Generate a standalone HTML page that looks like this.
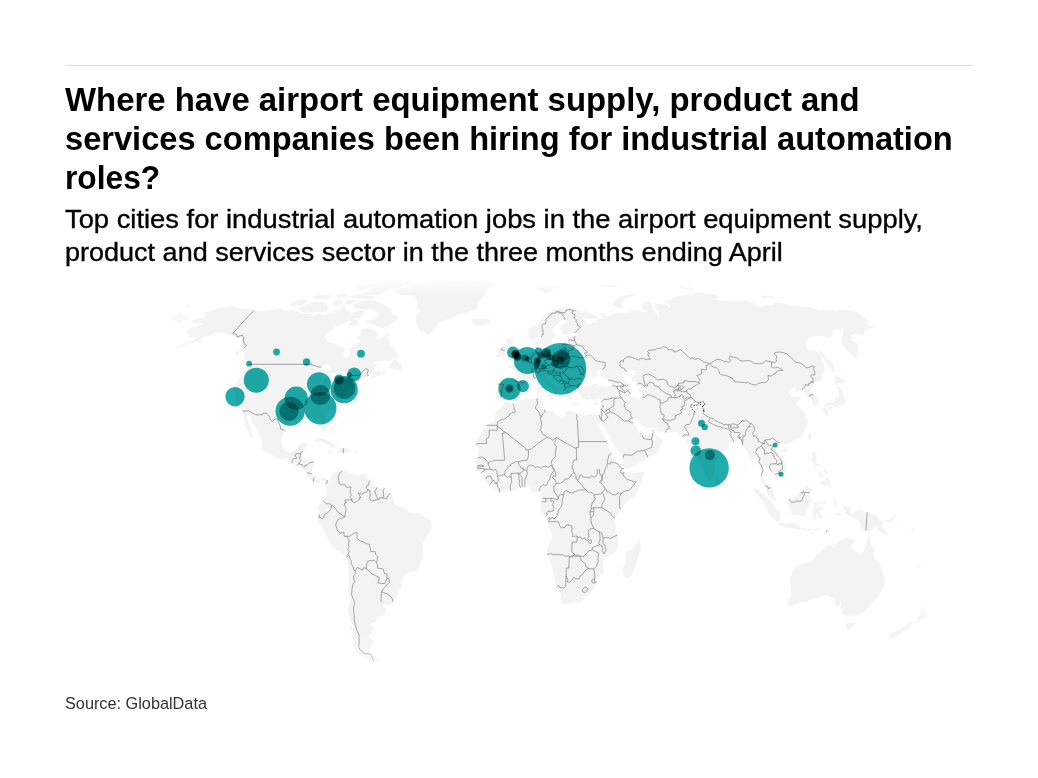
<!DOCTYPE html>
<html><head><meta charset="utf-8"><title>chart</title>
<style>
html,body{margin:0;padding:0;background:#fff;}
body{width:1038px;height:778px;position:relative;overflow:hidden;font-family:"Liberation Sans",sans-serif;color:#000;}
.rule{position:absolute;left:65px;top:65px;width:908px;height:1px;background:#dedede;}
.t{position:absolute;left:65px;white-space:nowrap;transform-origin:0 0;line-height:1;}
.h{font-weight:700;font-size:32.5px;color:#000;}
.s{font-size:25.8px;color:#000;-webkit-text-stroke:0.35px #000;}
.src{font-size:17.4px;color:#333;}
svg{position:absolute;left:0;top:0;}
#bubbles circle{mix-blend-mode:multiply;}
</style></head><body>
<div class="rule"></div>
<div class="t h" id="h1" style="top:84.1px;transform:scaleX(1.0123)">Where have airport equipment supply, product and</div>
<div class="t h" id="h2" style="top:122.8px;transform:scaleX(1.0032)">services companies been hiring for industrial automation</div>
<div class="t h" id="h3" style="top:161.8px;transform:scaleX(0.9755)">roles?</div>
<div class="t s" id="s1" style="top:206.76px;transform:scaleX(1.0596)">Top cities for industrial automation jobs in the airport equipment supply,</div>
<div class="t s" id="s2" style="top:239.66px;transform:scaleX(1.0472)">product and services sector in the three months ending April</div>
<div class="t src" id="src" style="top:694.7px;transform:scaleX(0.9353)">Source: GlobalData</div>
<svg width="1038" height="778" viewBox="0 0 1038 778">
<defs>
<linearGradient id="fT" x1="0" y1="277" x2="0" y2="297" gradientUnits="userSpaceOnUse"><stop offset="0" stop-color="#fff" stop-opacity="1"/><stop offset="1" stop-color="#fff" stop-opacity="0"/></linearGradient>
<linearGradient id="fB" x1="0" y1="700" x2="0" y2="635" gradientUnits="userSpaceOnUse"><stop offset="0" stop-color="#fff" stop-opacity="1"/><stop offset="1" stop-color="#fff" stop-opacity="0"/></linearGradient>
<linearGradient id="fL" x1="140" y1="0" x2="205" y2="0" gradientUnits="userSpaceOnUse"><stop offset="0" stop-color="#fff" stop-opacity="1"/><stop offset="1" stop-color="#fff" stop-opacity="0"/></linearGradient>
<linearGradient id="fR" x1="990" y1="0" x2="885" y2="0" gradientUnits="userSpaceOnUse"><stop offset="0" stop-color="#fff" stop-opacity="1"/><stop offset="1" stop-color="#fff" stop-opacity="0"/></linearGradient>
</defs>
<g id="map">
<path id="land" d="M229.7 306.3L236.7 307.5L243 308.4L251.6 309.1L254.1 310.3L260.2 311.8L266 310.6L273.7 309.4L280.2 308.4L283.8 310.6L291.9 309.9L297.8 311.8L301 313.8L308.9 314.5L313.8 313L311.1 316.7L319 313.8L324 314.7L332.7 313L336 313.8L339.1 310.6L344.9 304.8L345.5 309.4L347.2 311.1L350.5 311.8L351.8 314.2L357.8 310.6L364.4 310.6L363.6 314.2L359.3 317.9L353.2 318.4L348.9 320.9L343.1 324.2L338.4 325.5L334 328.1L328.8 331.9L324.5 337.2L327.5 337.9L326.2 342.5L333.2 343L339.6 347L345.1 347.6L343.3 353.3L343.8 357.4L345.7 357.9L348.3 356.8L350.1 353.3L350.5 348.6L357.2 345.1L359.9 341.1L357.3 337.7L360.8 334.5L362.6 328.6L370.6 328.6L375.3 331.4L377.6 333.2L376 337.2L378.3 339L383.1 337.2L387.6 333.5L389.3 339.8L390 343.8L392.1 347L395.6 349.2L396.6 353.3L398.7 355.5L396.5 357.4L390.2 360.7L383.7 360.7L377.1 361L372 363.5L366.5 367.1L361.1 370.5L369.4 364.9L376.3 363.7L377.4 365.1L374 367.7L374.9 369.9L376.1 372.1L381.3 373.6L385.5 369.9L385 372.7L382.1 374.7L376 376.7L370.7 379.8L369.5 378.4L374.3 374.7L368.5 375.5L368.2 376.7L363.3 378.4L360 379.8L358.1 382.6L359.5 384.1L359.2 385.2L355.6 385.8L350.7 387.5L349.3 388.3L348.1 391.2L345.8 392.9L344 395.5L342.2 398.4L341.9 401.2L342.1 403.6L338.1 405.6L335.4 407.3L331.9 409.6L327.6 412.8L325.8 415.7L325 418.5L326 422.9L326.6 427.8L325.1 432.1L322.9 432.4L321.9 429.5L320.6 425.2L321.3 421.4L318.8 418.5L315.1 419.4L312 417.4L308.3 417.7L305.9 418L305.7 420.9L302.9 420.9L299.6 419.7L294.8 419.7L292.1 421.1L286.6 424.3L284.4 430.1L282.3 435.9L281.4 440.8L282.1 445.1L283.6 449.4L286.5 451.4L288.3 452.6L292.6 451.4L295.6 450.8L297.9 448L298.7 444.5L303.5 443.1L307.2 443.1L307.3 445.1L305.1 448.8L303.9 452.6L302.6 454.6L302.1 457.5L300.6 459.2L303.8 459.5L307.5 459.2L311.1 459.5L313.8 461.8L312.9 466.1L312.1 470.4L311.8 473.3L312.9 476.1L315.2 478.4L318.1 479.6L320.6 478.4L323.1 477.6L325.6 478.1L326.9 479.9L327.3 482.2L325.5 484.2L324.4 481.3L321.8 479.3L319.5 481.3L319.6 483.6L316.7 483L313.3 481.6L311.4 480.1L308.9 476.7L306.5 475.6L306.9 473.3L304.5 469.8L302.7 467.5L300.6 466.9L297 465.5L293.4 464.6L291.6 462.9L288 458.6L285 458.6L281.7 459.8L277 458L273.6 456L269.6 453.7L265.7 452L262.5 448.8L261.6 446L262.8 443.1L262 438.7L259.2 434.4L256.4 431L255.4 427.2L253.2 424.3L251.2 421.4L250.7 416.2L247.7 413.6L246.4 417.1L248.1 421.4L249.3 425.8L251.1 430.1L252 434.4L253.6 438.2L252.2 439L249.5 435L248.4 431.5L246.3 428.1L243.6 424.9L245.8 422.9L244 419.1L243.1 414.2L242.6 411.3L241 407.6L236.5 405.6L236.4 402.7L235.5 398.9L235.5 396.1L234.5 391.2L234.5 388.6L236.8 384.1L237.4 381.2L241.3 375.5L243.2 371.9L244.7 366.3L248.4 366.3L248 369.1L249.9 366.3L249.5 364.3L247.8 361.5L244 358.8L244.4 354.6L243.9 350.5L243.2 348.4L242.4 346.5L242.2 342.5L241.7 339L238 338.5L236.4 336.6L233.6 335.1L228.9 334.5L225.6 333.8L223.1 331.9L217.9 333.2L216.5 331.4L209.1 336.4L205 336.4L200.9 339.8L193.5 342.5L187 345.1L179.9 347.3L174.8 348.4L170.3 349.2L178.2 345.7L185 343.8L192.2 340.3L196 337.7L190.3 337.9L186.9 337.2L189.4 334.5L185.6 333.2L186.2 330.6L190.3 327.5L195.6 326.3L200.6 325.2L202.9 323L199.3 322.7L193.1 323L192.2 320.2L200.2 318.2L205.5 318.7L203.8 316.7L206.6 314.2L202.9 313.3L211.1 311.1L217.7 308.7L225.8 307.2ZM392.9 290.6L403.3 287.9L410.6 284.9L420.2 283L428.7 282.5L437.1 282.1L445.7 281.3L454.1 280.7L462.2 280.5L470.3 280.3L476.4 280.8L482.6 281.3L488.8 282.2L495.2 283.2L499.1 284.3L492.9 286.5L488.3 288.9L486 292.1L483.8 295.4L480.3 299.9L477.7 304.6L477.2 308.2L471.2 310.6L465 313.5L457.2 314.2L452.6 317.9L445.3 319.9L440 321.7L437.1 325.5L432.8 330.6L429.8 334.5L427.7 334.8L425.2 332.7L420.5 331.4L418.5 328.1L416.8 324.2L416.1 320.4L415.5 316.7L417.8 313L422.5 310.6L416.8 308.2L417.4 304.6L416.7 299.9L414 296.1L407.6 295L401.2 295.4L397.9 293.6L395.4 292.1ZM470.8 320.4L474.7 318.2L478.3 319.7L483.3 318.7L487.2 317.9L489.7 319.7L491.5 321.7L488.6 323.5L482.5 325.5L477.6 325.2L473.7 324.5L474.9 323.2L471.2 322L475.2 320.9ZM374.1 300.6L380 302.7L385.7 305.6L391.5 308.7L391.7 314.2L399 317.2L394.2 321.7L388.4 326.3L382.7 328.1L377.3 326.8L373.9 323.5L366.1 323.5L366.4 320.9L375 319.2L379.4 314.2L374 310.1L370.7 309.4L365.1 309.4L357.9 308.9L353.3 307.5L355 303.4L365.1 300.6ZM302.9 305.8L311.4 302.3L322.3 302.3L326.8 303.4L328.7 309.4L325.7 312.3L316.6 311.8L304.6 312.8L300.3 311.1L299 308.2ZM289.3 304.6L296.9 300.4L307 299.3L307.8 302.3L299.6 305.3L290.5 306.3ZM360.8 294.3L370.3 291L370.6 286.9L366.4 284.5L378.3 282.6L388 281.9L397.7 281.2L405.5 281.3L413.4 281.5L417 283L405.6 284.9L396.6 287.9L388.3 290L377.9 294.7L369.2 294.7ZM348.5 296.5L357.7 293.9L366.5 296.1L376.7 296.5L373.6 298.6L361 298.8L354.3 298.1ZM310.7 297.2L322.4 294.3L331.8 295.4L330.7 297.7L321.9 298.6L315 298.3ZM356.8 287.3L365.9 284.9L373.2 285.9L368.7 288.9L358.9 290.4ZM334.7 300.4L342.2 299.9L342.8 302.7L336.9 305.8L331.9 303.9ZM346.7 299.9L354.8 299.9L354.9 302.3L346.9 304.6L344.6 302.7ZM331.1 311.3L336.8 309.9L337.9 312.3L332 312.8ZM349.6 319.7L355.7 319.2L359.1 323.7L353.1 325.8L347.6 325L351.1 322.2ZM336.3 294.3L347.2 293.9L345.3 297.2L337.3 297.2ZM387.6 367.9L390.3 364.3L394.9 359.3L398.5 357.1L396.5 361.5L400.5 362.9L402 365.7L402 368.5L400.1 370.7L397.7 369.9L394.4 369.9L391.4 368.5ZM240.9 359.3L245.2 360.4L247.3 364.3L247.5 366.3L244.5 365.4L241.3 361.5ZM236.7 350.3L239 350.5L237.2 355.2L235.7 353.3ZM199 340.9L204.4 339.8L202.2 341.9L198.2 343ZM377.9 361.8L383 363.2L383.2 364L378.8 362.6ZM375.9 370.5L380.7 371.3L379.3 372.7L376.2 371.9ZM179 325.5L184 326L183.5 326.8L178.7 326.3ZM179.2 334L182.4 333.8L181.2 335.1L178.7 335.1ZM170.8 348.1L174.6 347.8L173.1 349.2L170.3 349.2ZM161.5 351.6L166 350.5L164.4 351.9L161 352.7ZM349.4 388L354.3 386.6L354.1 387.2L349.7 388.3ZM312.4 441.9L317.5 438.7L322.4 438.2L327 440.2L331.5 442.5L334.8 445.1L337.7 446.8L334.4 447.7L329.1 447.7L330.6 445.7L327.6 444.5L324.3 442.2L319.6 440.8L315.9 441.3ZM336.7 451.4L340 447.7L343.7 448L347.8 448.3L351.3 451.4L349.8 452L346.1 452.6L343.5 454L341.2 452.6L338.8 452.6ZM326.9 452L330.3 451.7L332.1 453.1L329.6 453.7L327 452.6ZM354.2 451.7L358.1 452L357.5 453.1L354.1 453.1ZM365.5 473.8L368 473.8L367.6 475.8L365.4 475.8ZM330.1 432.4L331.2 432.7L330.6 435.3L329.6 434.1ZM331.9 427.5L333.6 428.7L332.9 429.8L331.3 428.1ZM326.9 479.9L328.3 481.9L330.5 477.9L331.9 475L333.8 473.3L335.3 472.4L340.9 469.5L342.6 469.2L341.6 473.3L341.6 474.1L345.8 469.8L346.9 471.8L349.7 474.1L355.4 474.4L359 475.6L362.8 474.1L365.2 474.1L365.6 476.1L368 478.4L369.9 480.4L372.3 481.9L374.6 485.3L377 487.6L380.7 487.9L384.4 488.2L388.1 490.5L390.5 492.5L391.7 496.2L394.2 499.6L394.1 503.4L396.6 505.4L399.1 507.1L402.8 507.7L407.8 510.5L409 512.5L414 512.8L419 513.1L422.7 515.4L426.4 518.6L430.7 520L431.7 524.9L431.8 528L430.4 532L426.9 536.3L423.4 542.1L422.4 547.8L422.8 555L421.4 560.8L420.1 563.6L418.7 568L416.5 570.9L413.6 570.9L410.1 571.7L406.4 573.7L402.7 577.5L401.6 580.9L402.2 586.1L399.4 591.1L396.5 595.4L394.7 599.7L392.8 602.6L389.7 605.2L386.9 605.2L382.3 602.6L381.6 604.3L384.9 606.9L385.9 609.8L385.3 614.1L382.4 616.1L375.7 617L376 621.3L373 623.3L370.1 622.7L371 626.4L374.1 627L371.7 629.2L371.9 634.1L368.2 636.9L372.4 640.3L373.4 642.2L371.1 646.7L369.6 648.9L369.6 652.2L371.7 654.7L368.6 655.5L367.5 658.5L364 657.7L361.6 656.9L358.3 653.6L355.7 649.5L352.7 643.9L353.5 639.7L350.9 638.3L352.9 634.1L352.8 629.8L352.7 625.5L349.6 619.8L349.4 615.5L347.8 611.8L348.6 606.9L349.8 600.6L349 593.9L348.4 589.6L348.7 582.4L348.5 576.6L348.1 572.3L347.9 565.1L346.6 557.6L343.9 555.3L340.8 553L335.6 549.8L331 545L330 542.1L328 539.2L325.7 534.3L323.5 529.2L320.8 524.9L317.7 522L316.8 518.3L319.2 514.5L320.1 511.1L317.7 511.4L318.1 507.7L319.6 504.8L319.8 502.5L322.8 500.8L323.6 497.6L326.1 497.1L326.9 493.9L326.3 489L326.7 485.6L325.5 484.2L327.3 482.2ZM371.5 655.4L368.2 656.3L368.8 659.1L366 660.1L371 662.3L375.5 663.1L378.3 662L380.6 661L375.1 659.1L372.6 656.6ZM349.8 625L351.6 625.5L352.5 629.5L350.5 629ZM392.4 505.4L395.4 505.1L397.9 506.2L396.6 509.1L392.9 509.1ZM504.3 401.8L505.7 401.5L511 403.6L513.3 403.8L518 401.5L521.5 399.8L524.9 398.9L529.6 398.9L534.2 398.4L538.8 397.8L541.1 397.5L543.5 398.4L542.3 399.8L542.7 402.7L543.7 405.6L541.9 407L541.4 407.6L543.8 409L545 409.6L547.4 410.5L549 410.2L553.8 411.6L554.6 414.2L558.2 415.7L563 417.7L565.3 415.7L565.1 411.9L568.5 410.2L572.1 411L577 413.9L581.8 414.8L586.5 415.7L588.8 414.5L591.1 413.9L594.3 414.8L595.2 418.5L595.4 420L597.9 424.3L598.8 426.6L602.1 433L603.6 435.9L607.3 441.6L608.2 444.5L608.7 448.5L611.9 453.1L614.7 460.1L618.6 463.2L622.4 466.9L624.5 469L623.8 471.5L626.4 474.7L628.9 474.7L633.8 473L638.7 472.4L644 471L643.7 475L642.6 479L640.3 484.7L638 490.5L635.6 494.8L631.9 498.2L630.2 499.1L627 501.9L623.3 506.2L620.8 509.7L618.3 512.3L616.3 516.3L614.5 520.6L613.9 523.4L615.6 524.9L615.3 529.2L616.1 533.5L617.8 534.9L617.6 540.6L618.1 546.4L617.1 550.7L613.3 553.6L608.3 556.5L605.7 559.3L602.6 561.6L602.8 566.5L603.8 569.4L603.6 573.7L597.3 577.5L596.2 579.5L596.7 582.4L595.4 586.7L592.3 590.2L588.8 594.8L585 598.8L582.5 600.6L578.1 602.6L573 602.6L569.4 603.2L564.7 604.9L561.2 603.5L561.1 602.3L560.3 598.8L561.2 595.4L559 591.1L557.3 587L554.6 582.4L554.1 576.6L553 570.9L551.9 566.5L549.2 559.3L546.8 554.4L546.9 550.7L548.2 545L551 540.6L552 536.3L550.6 530.6L548.9 524.9L548.2 522L547.7 519.1L545.7 516.3L542.8 512.8L540.3 508.5L539.8 506.8L541.5 503.4L541.8 499.1L542.3 495.6L541.5 493.3L539.5 491.6L535.3 492.2L532.8 492.5L530.4 489L529.1 486.7L526.4 486.5L522.9 486.7L520.5 487.6L518 488.5L513.1 491L509.3 489.9L505.6 489.9L499.4 492.2L495.7 489.9L491.3 486.7L489.6 485L487.1 483.3L485.4 480.4L484.7 477.6L482.3 474.7L481.1 473.3L478.6 471L476.9 469L476.7 466.1L476.3 463.2L475.1 462.6L477.6 458.9L477.7 454.6L479 450.3L477.9 448.8L476.8 444.5L477.1 441.6L479.4 436.7L481.9 433L483.2 429.5L485.7 427.2L487 424.6L490.6 422.9L494.3 420L495 417.1L494.9 414.2L496.4 411.3L500.2 408.2L502.1 407L503.5 404.1ZM639.3 539.2L641 547.8L641.7 549.3L639 553.6L638.2 557L635.7 565.1L632.5 573.7L631 576.6L626.5 578.4L623.8 576.6L623.2 571.7L622.8 568L625.6 563.6L625.9 559.3L625.4 555L626.9 551.3L631.4 549.8L634.5 547.3L635.9 543.5L638 540.6ZM595.2 418.5L594.3 414.8L597.2 415.4L598.8 414.8L599.9 412.2L600.2 409.9L601.1 407.3L601.5 404.1L601.3 402.7L601.9 399.5L600.3 399.5L598.1 398.9L594.6 401L592.2 399.8L589.1 398.7L588.1 400.4L585.2 399.2L583.3 399.2L581.4 398.4L580.3 394.4L578 391.2L577.9 389.8L579.1 388.6L584 386.9L586.2 386.3L589.6 386L593.4 384.1L597.7 384.1L600.5 386L604.4 386.9L608.3 386.9L612.2 385.5L612.1 383.2L610.4 381.2L607.2 379.5L603 376.9L600.5 375L599.5 374.7L601.2 372.7L603 369.6L598.7 370.7L595.6 372.4L597.8 374.7L597 375.5L594.1 377.2L592.7 376.7L590.4 374.7L592.5 372.4L588.9 371.6L587.7 371L586 371.3L584.2 375L582.1 377.8L580.8 380.6L580.6 382.6L581.4 384.3L583.9 386.3L583.7 386.9L580.6 387.2L578.9 388.6L577.5 388L577.2 387.2L574.9 387.2L572.7 387.8L572.8 389.8L570.4 388.3L569.9 390.3L570.7 392.1L573.3 394.9L573.4 396.4L571.5 395.5L571.6 397.5L571.6 399.8L569.9 399.8L568.2 398.9L567.1 396.4L567.5 394.6L566.2 393.2L564.9 391.2L563.8 390.6L562.2 388.3L562.3 385.5L561.7 384.3L559.8 382.9L558.9 382.3L554.9 379.8L552.1 378.1L551.2 375.5L550.1 374.7L549 376.1L548.3 374.1L548.7 373.8L545.4 374.4L545.9 375.8L546.2 378.1L548.3 379.5L550.1 382.6L554.7 384.3L554.3 385.8L556.4 386.6L559 388L560.3 389.5L560.1 390.3L557.2 388.3L556 390.6L557.2 392.6L556 394.4L554.9 395.8L553.9 395.2L554.3 393.5L554.9 392.6L553.6 389.8L551.7 388L550.3 387.5L548.7 386.3L545.7 384.6L542.9 382.9L541.7 381.2L541.2 379.8L540 378.1L537.9 377.2L535.9 378.6L534.4 379.2L531.5 380.9L529.9 380.4L528.1 380.1L525.9 380.4L524.8 382.1L525.5 383.2L523 385.8L520.7 386.6L519.8 387.8L517.3 391.2L518.5 393.5L516.8 394.6L516.4 396.6L512.9 399.2L507.8 399.2L505.7 401L505 401.2L503.4 399.8L501.8 397.8L500.9 397.8L499.5 398.4L497.2 398.4L497.7 395.5L496.2 393.2L497.4 389.8L498.2 386.3L497.9 383.5L497 381.5L499.1 380.1L500.3 378.9L504.5 379.5L509.5 379.8L511.3 380.1L514 380.1L514.4 379.8L515.3 376.4L515.6 373.8L515.3 372.1L514 371.3L513.1 369.3L511.8 368.5L510.5 367.9L508.3 367.7L507.5 366L508.2 365.4L510.4 364.9L512.1 365.4L513.6 365.1L514.7 365.1L514.5 362.6L515.2 362.4L515.6 363.2L517.3 363.5L518.2 362.9L518.4 362.4L520.4 361.8L521.5 360.7L521.5 359.6L522.1 358.8L523.2 358.6L524.2 358.2L524.9 357.8L525.7 357.5L526.8 356L528 353.4L529.5 352.7L531.2 352.2L532.9 352.4L535 351.4L536.2 350.8L537.1 350.5L536.1 348.1L535.5 347.8L535 346.2L534.9 343.8L535.2 342.5L537.7 341.9L539.9 340.6L539.8 342.5L540.7 344.1L539.3 344.7L538.5 346.5L538 347.8L538 348.4L539.5 349.5L541.2 349.5L541.1 350.5L542.3 350.5L543.6 350.1L544.4 349.5L546.5 348.9L548.1 350.8L551 350L553.8 348.6L556.7 348.4L557.5 349.5L559.2 349.5L560.1 348.6L560.1 347.8L562.1 347L562.2 345.9L561.7 343.8L562.5 341.4L564.6 340.5L566.1 342.2L567.8 342.5L568.3 340.1L568.3 338.7L566.1 337.9L566 336.6L568.5 336L570.9 335.6L575 335.8L579.3 334.8L578.2 334L575.9 332.7L572.6 333.2L568.7 334.1L564.7 335.1L562.9 333.5L561.1 331.9L561.1 330.6L560.4 328.1L560.6 326.5L562.3 325L563.5 324.6L565.9 322.5L567.5 321.7L565.7 319.9L564.7 319.7L561 320.2L559.9 321.7L559 322.5L558 324.7L555.6 326.3L553.8 327.8L552.4 328.3L552.4 330.1L552.7 332.7L554.8 333.5L556.1 334.5L556.5 335.8L555.4 337.2L554 337.7L552.2 338.2L552.6 339.8L552.3 341.1L552.1 343.3L551.4 344.6L550.5 344.7L548.7 344.9L547.9 346.2L546.9 346.7L545.7 346.7L545.2 346.2L544.5 345L544 344.3L544.7 343.4L542.7 340.6L541 338.7L540.9 337.2L539.7 334.8L539.2 336.4L537.8 337.2L534.5 339.4L532.4 339.8L529.7 338.5L529.6 337.2L528.6 335.8L528.7 333.5L528.1 331.9L528 329.3L530.3 328.1L533.2 326.5L534.8 325.5L537.3 325L537.7 324.2L539.5 322L541.3 320.4L542.2 319.2L545.5 316L546.5 314.2L548.2 312.8L553.5 310.1L557.1 309.1L561.9 307.7L565.6 306.6L569.7 306.7L573.6 307.7L575.8 308.4L572.1 309.4L574.1 310.1L575.9 309.9L579.9 310.8L585.6 311.3L589.9 313.3L596.2 315.5L597.3 317.2L595.2 318.7L591.4 318.9L585.4 318.2L581.4 317.5L580 316.5L584.8 319.7L585.8 321.7L586.6 323.5L590.8 324.5L592.5 323.5L590.5 323.2L592.2 322.2L597.2 322.8L595.6 320.4L598.9 318.2L603 319.2L602.5 317.5L600.4 313.5L599.7 312.5L603.2 313.5L605.5 314.7L607.2 317.2L609.5 315.2L613 314.2L618.3 313.3L620.1 313L625.6 312.5L630.3 312.5L631.1 310.1L639.1 311.1L642.4 312.3L647 312L643.3 310.1L641.8 307L642.7 303.4L644.7 302L649.6 302.7L652.5 307L654.4 311.8L658.2 315.5L656.8 318.4L659.8 316.7L658.8 313L654.7 307L654.6 303.4L660.3 303.9L665.3 304.6L670.2 308.2L669.4 303.9L663.1 301.1L672.3 299.9L672.3 297.4L676.8 296.3L684.7 295.2L692.7 294.3L697.7 291.7L703.9 293.2L713.6 294.3L718.2 296.3L715.3 299.9L721.3 300.6L730.7 301.1L735.4 302.3L741.1 300.6L747 301.1L753.3 303L755.9 306.5L760 307L762.5 305.8L767.8 305.6L773.6 305.8L773.4 302.5L777.9 303L784.1 303.7L794.1 306L800.9 307.2L808 307L815.3 308.4L819.3 310.3L824.7 310.1L830.6 310.3L837.9 311.8L836.5 310.1L840.9 309.6L847.1 310.1L857.1 312L868.5 321.5L866.1 322.7L864.8 322.5L872.7 326.8L874.9 328.6L870.1 328.1L866.1 329.9L864.2 331.9L863.7 334.8L856 333.8L853 334.8L850.2 335.1L852.4 338.5L852 340.3L856.7 343.3L858.5 344.6L858.2 347.8L858.4 352.7L856.1 353.3L856.8 356L856.3 359L850.4 353.3L845 347.8L841.5 342.5L842.1 338.5L842.6 334.5L842.8 330.6L844.2 328.1L839.6 329.3L838.7 329.9L835.8 329.6L832.8 330.6L832.4 334.5L832.6 335.8L828.7 337.2L825 335.8L821.4 335.8L815.7 336.4L809.6 336.4L807.3 339.8L806.2 343.8L807 349.2L810.1 350.5L813.5 350L819.1 353L821 356L822 360.1L824.3 364.3L824 368.5L824.6 371.3L822.6 375.5L821.9 378.4L819 381.5L815.1 380.9L813.8 382.3L813.5 383.2L813.1 385.5L813 386.9L811.6 389.8L810.1 392.1L813.8 394.6L817.4 398.4L818.6 401.2L818.9 403.8L816.7 404.7L813.6 405.9L812.4 402.7L811 399.2L810.3 396.9L807.6 396.4L805.7 394.6L805.2 391.8L802.3 389.8L799.4 390.6L796.6 393.2L796.1 389.2L796.4 387.8L793.4 387.2L791.4 390.1L788.3 392.6L791.1 395.5L793 397.5L796.6 396.1L801.2 397.2L801.4 398.9L797.6 401L796.5 405L799.5 407L802.2 410.8L805.5 413.6L805.9 415.7L804.2 417.7L807.1 418.8L807.9 421.4L807.2 423.7L806.4 424.6L805 430.1L802.5 434.4L799.7 437.9L794.3 440.8L792.7 441.3L788.9 442.8L786 443.9L786 446.5L784.1 443.4L782.4 443.1L780.2 442.8L777.6 444.5L776.9 445.1L775.7 448.8L775.7 450.8L778 454L780.9 457.2L782.8 458.6L785.4 463.2L786.6 467.5L786.7 470.4L786.3 471.8L784.1 473.8L781.7 475L781.1 477L778.3 479L776.7 480.1L776.9 476.1L775.6 475L773 474.4L771.6 471.8L770.2 470.4L766.3 468.4L765.8 466.4L764.8 466.1L763.7 466.7L763.7 469L762.5 474.7L763 478.1L764.9 480.4L766.3 484.2L768.9 485.3L770.7 487L773.1 489.6L774 493.9L776.1 499.1L776.3 500.8L774.1 500.8L771.1 498.5L768.8 496.2L767 492.8L766.1 489.3L765.5 486.5L764.1 483.9L760.8 482.2L760.6 479L761 475.3L760.6 470.4L759 464.6L756.9 458.9L755 456L753.2 457.2L751.3 459.5L748.8 458.9L748.5 454.6L746.4 450.3L743.8 447.1L742 445.1L741 443.1L740.1 440.8L738.1 440.2L737.1 441.6L733.5 442.2L731.2 442.5L728.9 443.4L728.7 445.4L728.6 446.5L726.6 448L724.9 449.4L721.3 454L719.2 456.9L716.6 459.5L714.6 461.8L714.7 466.1L715.3 467.2L714.4 470.7L714.9 475.3L713.4 478.1L711 479.6L709.4 481.6L707.8 480.4L705.9 476.1L704.6 472.4L701.9 467.8L698.8 460.3L697.1 456L695.3 450.3L694.8 446L694.3 444.2L693.4 441.1L692.9 442.2L690.3 445.1L688.6 444.8L684.8 441.1L687.6 438.7L683.9 438.2L682.5 436.7L680.7 435.9L679.2 433.6L677.7 431.8L673 432.4L667.7 432.7L665.8 432.7L663.6 432.1L659.7 431.8L656.8 431.2L654.4 428.1L652.6 426.9L649.7 428.1L647.3 428.4L643.7 426.1L640.9 424.6L638.9 421.7L637 418.5L634 417.4L633.2 418.5L632 420.3L633.3 422.9L634.5 425.2L636.9 427.2L638 428.9L638.5 431.5L640.2 433.8L640 431.5L640.7 429.8L642 432.1L642.2 434.1L642.8 435.9L648.9 434.4L650.8 432.1L652.3 430.1L653.1 429.2L653.6 432.7L654.5 434.7L659.4 437L662.6 440.2L662 443.4L660.1 446.2L658.8 450.3L657.1 453.1L655.4 453.4L652.4 456L650.2 456L645.8 458.9L643 460.9L638.4 463.2L634.6 465.8L628.6 468.1L624.9 468.4L624.1 466.7L623.3 462.3L622.5 458L621.9 456.3L619.2 451.7L616.5 448L613 443.1L611 438.7L609.6 435.6L607.4 432.4L605.5 429.5L602.8 425.8L601 424.3L601.1 420L600.9 420L599.9 424.9L598.1 423.5L597.1 422.6L595.3 418.8ZM505.6 361.2L508.9 360.4L510.4 359.9L513.7 359.9L515.8 359.3L518.6 359.4L521 358.2L519.3 357.4L521.6 354.1L518.6 353.5L518.2 351.6L517.6 350.3L515.3 348.4L514.6 346.5L513.6 345.4L511.1 345.1L512.8 343.8L513.9 340.9L510.2 340.6L511.9 338.2L507.8 338.2L506 341.1L506.3 343.8L506.9 345.7L507.7 347.8L510.4 348.1L511.4 350.5L511.4 352.4L508.6 352.4L509.3 353.8L509 355.2L506.8 356.3L509 357.1L511.5 357.4L511.1 358.2L508.7 358.5L507.2 360.1ZM496.5 357.1L499.7 357.1L504.3 355.5L505.2 352.4L505.3 350.5L506.2 348.9L505 347.3L502.3 347L500.1 348.6L496.9 350L497.2 352.4L498.1 354.4L495.7 355.7ZM546.6 395.5L548.9 394.9L553.9 394.9L552.9 397.5L553 399.2L550.8 398.1L546.9 396.6ZM536.7 387.2L538.9 386.3L540.3 388.3L540 392.1L538.4 392.9L537.3 391.8L537.2 388.9ZM537.4 382.9L539.2 381.2L539.5 383.5L538.9 385.8L537.5 384.3ZM572.7 402.7L576.2 403L579.3 403.3L579.1 404.1L575.1 404.4L572.8 403.6ZM593.3 404.1L594.8 403L598.5 402.1L597.3 404.1L595.1 405.3ZM523.5 390.9L525.1 390.1L525.8 390.6L524.9 391.8ZM541.2 345.9L543.5 344.9L544.4 345.9L543.4 347.8L541.5 347.3ZM538.5 346.5L540.4 346.5L540.5 347.6L539 347.6ZM555.7 341.9L557.1 340.1L556.9 341.7L556 342.7ZM563 339L565.1 338.2L565.6 338.7L563.7 339.8ZM571.3 392.9L574.4 394.9L574 395.5L571.8 393.8ZM612.7 305.8L614 302.3L617 298.8L620.4 296.5L629.9 294.5L637.1 293.4L634.2 295.9L626.3 297.7L622.2 300.4L620.9 303.4L624.4 307.5L620 307.9L616.8 307ZM536.5 287.9L544.8 286.9L551.6 287.3L554.6 289.3L550 292.1L546.8 293.9L542.2 292.1L538.4 289.5ZM548.9 286.3L559.7 286.3L563.3 287.3L556.9 288.5L550 287.5ZM596.2 285.9L602.6 285.4L608.9 284.9L620.5 284.9L618.3 286.5L611.7 286.7L605.1 286.9ZM678.6 288.3L680.4 285.3L693.8 288.3L692.5 290.4L684.9 289.5ZM759.9 296.5L765.4 295.2L774.1 296.5L772.4 298.1L763.5 298.1ZM777.3 297L784.6 297.2L783.1 298.1ZM847.1 306.5L849 305.8L850.8 307.2L849.3 307.5ZM609 311.1L611.5 311.1L611.9 312.3L609.4 312.3ZM818 349.7L822.1 352.4L826.2 357.4L833.5 364.3L832.8 368.5L836 371.9L833.2 372.7L829.8 367.1L826.6 361.5L821.8 356L819.1 351.9ZM836.2 385.5L833.8 381.8L836 380.4L833.5 374.4L837.9 376.9L844.2 378.9L845.6 380.6L842.5 384.1L837.7 382.6L837.6 384.6ZM837.8 385.5L840.6 388.3L843.2 391.2L842.9 395.5L844.5 398.9L845.4 402.1L843.9 404.1L842 405L837.9 405.3L837.8 406.1L836.3 408.5L833.8 406.1L830.9 405.3L827.7 406.1L824.5 407L824 405.6L826.4 402.7L829.7 402.4L833.2 402.4L835.2 400.4L834.6 397.5L837.9 397.2L838.8 394.1L837.9 389.8L836.6 386.3ZM822.7 408.5L824.7 407.3L827.5 409.9L828.3 414.2L826.9 415.7L824.8 412.8L822.6 409.9ZM827.9 408.5L829.1 406.7L832.7 406.4L832.8 408.5L830.5 410.5ZM809.9 432.1L811.3 433L811.2 437.3L810.4 441.6L808.5 439.3L807.8 436.4L808.9 433ZM782.6 449.4L785.3 447.1L788 448.3L787.2 451.1L785 452.6L782.9 451.4ZM714.8 477L717.3 478.1L720.1 483L719.7 486.2L717.1 487.9L715.5 486.2L715.1 481.9ZM812 451.7L815.9 452L816.9 456L815.7 459.2L816.6 464.1L819.9 464.6L822.7 467.5L822.6 468.1L818.8 465.8L815.1 465.5L813.8 463.2L812.1 461.8L811.7 458.9L812.5 457.5L811.7 453.1ZM819.5 484.7L821.7 480.4L825.4 480.4L827.5 477L829.8 480.4L830.5 486.2L828.4 487.6L827.7 485.3L824.5 484.7L824.6 487L821.9 483.9L819.8 485ZM823.7 469L826.1 469L827.6 473L826.1 475.6L824.8 474.1L824.5 471.8ZM818.2 471L820.8 471.8L821.8 476.1L820.2 477.6L818.7 474.7ZM814 466.4L816.6 467.2L816.1 469.5L815 468.7ZM807.4 480.7L810.3 477.6L812.3 473.3L811.8 475.3L809.2 479.3ZM788 500.5L789.6 499.1L792.9 500.2L793.6 497.6L797.8 495.6L800.1 491.9L803.7 489L806.4 484.7L809 486.7L812.9 489.9L810 492.5L808.9 494.8L810.2 498.5L812.8 501.9L809.8 502.5L809 506.2L806.5 509.1L806 513.4L805.1 515.7L801.6 516.5L797.8 514L794.8 514.8L790.9 513.1L790.5 508.5L788.5 506.2L788 503.4ZM753.7 488.8L759.2 489.9L762.3 493.9L766.4 497.1L769.4 499.1L773.1 502.8L774.9 507.7L776.8 510L780.5 513.4L779.7 521.4L776.4 521.4L771.2 516.3L768.1 512L766.4 507.7L763.2 502.5L760.7 498.2L756.9 494.2L753.8 490.5ZM778 524.3L780.1 521.7L786.2 523.4L791.2 523.4L792.4 523.1L796.5 524.6L800.8 526.9L800.4 529.7L794.5 528.6L789.7 527.7L784.8 527.2L781.1 526ZM814.7 502.5L817.2 501.1L822.7 502.2L827.6 500.2L826.4 503.7L822.7 503.7L817.2 503.7L815.5 507.1L818.9 507.7L823.4 507.1L822.1 510L818.9 510.5L821.3 514.8L822.3 519.1L819.9 518.6L818.3 514.8L816.1 513.4L815.8 520.6L813.6 520.6L813.3 514.8L812.4 512.5L814.7 505.4ZM800.7 528.3L803.7 528.3L806.1 528.9L805.5 530.3L802.3 530ZM806.4 529.2L811.8 528.6L811.7 530L806.7 530.9ZM813.8 528.9L821.2 528.3L821.1 529.7L814.2 530.3ZM811.5 532L815.9 533.2L813.8 534.3L811.5 532.9ZM822.4 534.3L826.5 530.6L832.1 528.9L830.1 531.2L824.9 534ZM833.8 499.1L836.3 500.5L836.8 503.9L835.1 507.1L834.3 503.4ZM834.9 513.4L841.9 513.4L841 515.4L835.4 514.8ZM830 514L832.9 514L832.4 515.7L830.4 515.4ZM842.5 507.1L846.2 505.9L849.9 507.1L850.3 512L852.2 514.3L854.8 511.4L859.3 509.1L863.5 511.1L867.2 512.3L872 514.5L875.7 515.7L878.7 519.1L881.5 521.7L883.4 523.7L881.7 525.7L884.5 530.6L887.8 533.5L889.4 534.9L885.3 534.3L881.7 533.5L879.1 530L875 526.9L872.3 529.2L869.6 531.2L865.9 530.9L862.5 528.3L858.7 528.9L861 524.9L859.3 521.1L854.5 518L849.7 516L847.2 516.3L846.8 513.4L844.4 512.8L846.1 510.5L843.7 509.1ZM884.8 521.1L889.1 519.7L893 516.8L894.9 517.1L894 520L890.1 522.6L886.4 522.6ZM891.4 512.3L894.3 514L896.6 517.7L895.9 518L893.1 514.3ZM900.7 520.6L903.2 523.4L902.4 524.3L900.6 522ZM910.7 527.7L914.2 529.2L914.6 532L912.2 531.5ZM914.8 528.9L915.9 532L915.1 532.3ZM916.6 562.5L919.5 565.1L922 568.8L920.7 569.1L917.9 566.5ZM926.5 547L927.5 549.3L927.6 552.1L927 549.5ZM950.9 555L954.1 555L953.3 557L950.6 557ZM955 552.1L958.2 551.3L956.7 553.3ZM793 569.4L794.6 567.4L798.2 565.1L802.1 563.9L807.3 562.2L812.3 561.1L816.4 556.5L816.6 553.6L819.6 554.7L820.6 551.6L824.3 548.7L828 545L831.2 546.4L833.1 547.3L835.7 547.5L835.9 544.4L839.7 540.4L844 539.2L845 537.2L850.1 539.8L854.6 539.5L853.3 542.9L850.2 547.3L853.4 550.1L857.8 553L861 555.3L863.8 550.7L865.8 545L866.2 540.6L869.1 535.8L870.8 541.5L870.8 545.8L874.1 547.8L873.8 552.1L874.2 558.8L877.4 560.8L879.8 563.6L882.3 569.7L882.1 573.2L885.6 577.5L884.6 583.8L883.6 587.3L879.9 593.4L876.7 598.3L872.3 602L869.1 606L865.1 611.2L861.6 613.5L856.2 615.2L853.6 617.3L851.6 615.2L847.6 616.4L843.7 615L841.3 612.7L842.3 607.8L839.5 607.2L841.5 604L841 601.1L838.6 605.5L836.6 606.3L834.9 604.9L834.5 601.1L832.9 599.1L830.2 596.8L827.2 595.4L822.2 596L816.9 597.7L813 598.8L809 600.3L807.1 602.3L802.4 602.3L798.8 602.6L794.3 605.5L790.7 605.8L787.9 603.7L787.4 601.7L790.6 596.8L791 592.5L790.9 587.6L790.4 583.3L789.7 579.5L791.9 575.2L791.8 572.3ZM847.6 621.8L851.1 623L855.5 622.4L853.6 625.5L850.1 629L846.1 630.1L846.2 627ZM921.5 603.7L923.2 606.3L922.8 610.7L924.8 611.2L926.1 613.8L929.8 613.2L925.9 617.5L923.1 618.7L919 622.7L915.5 624.4L915 623.3L917.9 619.8L916.3 617.8L920 614.7L922.5 609.8L921.4 605.5ZM911.7 621.3L913.5 623.3L912.8 625L906.3 630.1L901.2 632.4L897.5 636.3L893 638.6L890.6 638L887.6 636.9L890.6 634.1L895.9 631.2L901.1 628.4L905.9 625.5L909.6 622.1ZM649.1 468.7L652 468.7L651.6 469.5ZM614.9 521.4L615.7 522L615.4 523.1ZM539 494.2L540 494.2L539.5 495.3ZM139 446.8L141.1 448L139.1 450.3L138.4 448.8ZM813.9 408.7L815.5 408.5L815.1 409.3ZM548.8 347L549.7 347.6L549.1 347.8ZM552.2 344.6L553.4 341.7L553 341.7ZM563.2 337.4L565 337.2L564.7 337.9ZM745.7 466.1L746.5 466.9L746.4 471.5L745.6 471ZM778.8 509.7L781.7 512L781.9 513.4L780 512ZM784.4 512.3L786.2 512.8L785.1 514ZM758.7 500.8L760.5 503.1L759.8 503.4ZM762.5 507.7L763.9 509.7L763.2 510ZM819.9 474.7L821.8 473.8L822.2 478.1L821 478.4ZM822.5 473.8L824.2 476.1L825 477L823.3 477.3ZM846 375.5L849.2 374.1L848.4 375.8ZM851.7 336.6L854.6 337.2L854.4 338.5ZM626.8 308.7L630.8 309.4L629.3 310.1ZM643.6 301.6L647.2 301.6L645.7 302.3ZM178.9 312L181.8 313.5L184.2 315.5L188.5 316.7L190.3 318.9L186.4 320.2L182.7 320.9L180.5 323.2L177.3 323.5L175.4 322.2L176.1 320.7L171.6 320.4L167.5 321.5ZM187 305.8L190.7 306.5L188.9 307.2L185.2 307.2Z" fill="#f3f3f3" fill-rule="nonzero"/>
<path id="lakes" d="M622.5 373.6L624.4 372.1L627.5 371L630.6 369.9L634 370.5L635.5 371.9L636.5 374.7L632.7 374.7L632.1 376.9L630.2 376.7L632.8 380.6L636.4 381.8L637.4 384.6L638 386.3L640.6 385.8L641 387.5L639.1 389.8L639.1 391.2L641.7 392.9L642.6 397.5L640.7 398.7L637.3 399.2L634 397.2L631.1 396.6L630.5 394.4L631 391.8L631 389.2L632.8 388.9L630.8 387.8L629.2 385.5L627.8 384.1L625 381.2L624.5 378.4L622.4 376.7ZM314.3 370.7L317.8 371L322.8 369.3L324.1 368.8L324.3 371.3L329.8 371.3L330.9 371.3L331.5 368.5L329.9 365.1L325.3 364.6L321.9 367.1L317.9 369.1ZM319.2 384.1L320.6 385.2L323 382.6L324.2 378.4L327.2 375.5L329.1 373.3L325.8 373.3L321.9 376.1L321.1 376.9L321.3 379.8ZM329.8 373.3L332.7 372.7L337.1 372.7L340 374.1L339 376.9L336.3 376.4L334.1 380.4L332.3 381.2L332.8 378.4L330.5 379.2L332.1 375.5L331.2 373.8ZM328.9 384.9L331.9 385.5L337 383.5L340 381.8L338.8 381.5L335.2 382.1L331.2 384.1ZM338.4 380.4L342.5 380.4L346.5 379.8L347.2 378.1L344.2 378.4L340.7 378.9Z" fill="#fff"/>
<path id="borders" d="M254.1 310.3L243.1 321.8L232.6 333.8L236.3 334.3L237 337.2L240.1 335.8L242.7 335.1L242.7 336.4L243.7 337.7L243.2 341.1L244.3 342.5L243.9 343.5L246.5 345.1L245.2 347L243.7 348.6M249 364.3L257.8 364.3L266.5 364.3L275.3 364.3L284 364.3L292.8 364.3L301.5 364.3L310.3 364.3L311.4 363.5L311.1 365.1L314.5 365.4L317.2 366.8L321.5 367.1M347 378.1L351.3 375.5L358.5 375.5L360.3 374.7L362.2 371.9L365.6 368.8L367.5 369.1L368.3 369.9L367.3 373.3L367.8 375L368.4 375.8M242.6 411.3L248.4 410.8L255.9 414.8L262.5 414.8L262.9 413.4L266.9 413.4L269.7 416.8L270 419.4L272.6 421.4L274.8 419.1L277.4 419.1L279 423.5L280.3 425.8L280.6 428.9L284.8 430.4M291.8 463.2L292.1 460.9L293.6 458.6L296.8 458.6L296.7 457.5L294.7 455.4L295.7 455.3L295.9 453.7L300.4 453.7M300.4 453.7L300.5 453.1L302.8 451.7M300.4 453.7L299.6 459.2L300.4 459.2M302 459.8L299.3 462.1L298.8 463.5M298.8 463.5L296.8 465.4M298.8 463.5L300.8 464.6L302.5 464.9L302.3 466.4M303.5 467.5L305 466.7L305.1 465.2L307.4 464.9L309.5 462.9L312 462.3L314.1 461.8M306.9 473L309.4 473.1L311.3 474L311.9 473.5M313.1 481.7L313.4 479.6L313.9 478.7L314.4 477.4M326.9 479.9L327.3 482.2L325.5 484.2M343.5 448.3L343.3 451.1L343 453M342.5 471L339.9 473L338 476.7L339 480.7L339.1 483.6L340.6 484.7L344.8 484.7L346.4 487.3L351.1 487L350.3 489.6L350.2 492.5L351.4 495.1L350.1 496.8L351.3 498.5L352.3 501.4M352.3 501.4L351.8 499.9L345.1 499.9L345.1 501.6L346.6 501.9L346.1 503.1L344.5 503.2L344.5 505.4L346.1 508L344.9 516.8M344.9 516.8L343 515.7L337.5 511.7L335.5 508.5L331.7 505.1M331.7 505.1L330.7 504.5L329 503.7L326.3 503.7L322.8 500.8M331.7 505.1L331 509.1L328.3 512.3L324.4 514.5L323.5 517.7L322.3 519.1L321 517.6L318.9 517.4L319.4 514.5M352.3 501.4L353.8 502.7L355.8 502.2L359.5 499.4L359.5 497.6L361 497.9L359.1 494.5L358.1 493.1L362.5 494.2L362.8 493.2L367 491.9L367.8 489.9M367.8 489.9L366.2 487.7L367 485.6L369 484.5L368.3 483.3L369.9 480.4M367.8 489.9L369.6 490.2L370 492.2L370.2 495.1L369.7 497.9L370.1 499.6L372.1 501.1L374.3 500.5L378.1 499.4M378.1 499.4L376.1 495.1L374.7 491L376.5 489L376.8 487.6M378.1 499.4L379.6 499.4L379.6 497.6L382.8 498.1M382.8 498.1L383.8 494.5L383.2 490.8L384.4 488.3M382.8 498.1L384.8 498.2L387 498.5L388 495.6L390.2 493.1M344.9 516.8L337.6 519.7L335.6 524.9L337.9 531.2L339.7 532L340 533.5L343.9 532L344.1 536.3L346.7 536.2M346.7 536.2L349.1 540.6L348.6 544.1L348.9 548.4L347.8 549.5L349.2 551.3L348 554.4L348.3 555M348.3 555L346.4 557.5M346.7 536.2L349.8 536.3L353.8 533.2L357 532.6L357 538.3L359.6 540.6L363.7 542.1L366.2 543.5L369.5 544.4L370.2 548.1L370.7 551.6L375.1 551.6L375.6 554.4L377.7 556.5L377.2 559.3L376.6 561.6L376.7 562.6M376.7 562.6L374.2 560.2L367.9 561.1L366.7 563.6L366.4 568.7M366.4 568.7L366 568L363.3 568L362.6 570.3L357.4 567.4L355.6 570.3M348.3 555L349.5 556.7L350.2 559.3L351.3 560.8L351.2 563.6L353 566.5L353.9 570.3L355.6 570.3M355.6 570.3L355.8 573.7L353.2 576L354.6 582.1L352.8 584.4L352 589.6L351.5 594.5L353.8 600.6L354.8 603.5L353.8 606.3L353.4 609.8L354.3 615.5L354.2 619.8L355.4 625.5L357.2 631.2L359.3 635.5L359.1 638.3L359.3 642.5L358.7 646.7L360.2 650L362 650.8L363.6 653.6L367.9 653.6L371.7 654.7M371.5 655.4L373.7 661.5M376.7 562.6L377.9 568.3L381.3 568.5L383.3 569.4L384.5 573.7L387.2 573.9L386.9 578.4M366.4 568.7L370.9 573.2L376.1 576L379.4 577.5L377.9 583L383 583.5L384.7 583.5L386.9 578.4M386.9 578.4L388.9 578.4L389.4 582.7L385.1 586.4L381.5 591.6M381.5 591.6L381.1 598.3L381.3 602.3M381.5 591.6L385.5 593.4L386.5 593.6L390.7 596.5L392.5 599.1L392.9 601.9M498.1 384.3L499.7 384.1L503.1 384.2L503.9 385.2L502.3 386.9L502.2 389.2L501.9 390.6L500.8 390.9L501.9 392.6L501.2 394.9L501.9 394.9L500.7 396.9L500.9 397.8M514 380.1L514.8 380.9L516.4 381.5L519.6 381.8L521.8 382.6L525.2 382.8M534.8 378.9L535.3 377.8L533.4 377.2L533.6 375L533.1 373.3L533.7 373M533.7 373L533.1 371.6L531.5 372.1L531.5 371L533.4 368.8L534.7 368.2M534.7 368.2L535.1 365.4L535.9 364.3L534.1 363.7L532.6 363.7L531.8 362.9M531.8 362.9L530.6 362.8M530.6 362.8L528.6 362.1L528.4 361.1L527.1 361.5L526.9 360.7L524.9 359.4L523.5 358.5M525.2 357.8L527.3 357.8L528.8 357.5L530.6 358.3L530.3 359.3L531 359.4M531 359.4L531.6 360.4L531.2 361.2M531.2 361.2L530.6 362.8M531.2 361.2L532.1 362.1L531.8 362.9M531 359.4L531.1 357.9L530.9 356.6L532.6 356.1L533.1 355.2L533.1 353.8L533.3 352.6M536.2 348.1L537.9 348.4M548.2 350.8L548.6 352.4L548.2 353.7L549.3 354.5L549.7 357.1L550.3 358.5L550 359.2M550 359.2L548.9 358.8L546.1 360.1L544.4 360.7L545.1 361.8L545.7 363.2L548.3 365M548.3 365L547.4 366L546.1 366.8L546.6 368.5L544.8 368.1L541.1 368.5L539.1 368.4M539.1 368.4L536.9 367.9L534.7 368.2M539.1 368.4L539 369.6L541.1 370.2M533.7 373L535.5 372.7L536.7 371.4L538 373.1L538.6 371.4L540.4 372L541.1 370.2M541.1 370.2L544.7 369.9L545.4 370.7L548.3 371.3M548.3 371.3L548.2 372.7L548.7 373.8M548.3 371.3L550.3 371.6L553.6 370.3M553.6 370.3L554.3 368.5L555.7 367.1M555.7 367.1L555.1 365.4M555.1 365.4L550.7 364.3L550.2 365.4L548.3 365M550 359.2L553 359.9L554.6 360.4L556.3 360.7L559 362.9M559 362.9L557.3 364.3L555.1 365.4M559 362.9L561.2 363.7L563.7 363.2L567.2 364M555.7 367.1L559.1 367.7L561.7 366.7L564.8 365.6L566.5 366M566.5 366L567.2 364M567.2 364L567.4 362.6L569.9 360.1L568.8 357.4M568.8 357.4L568.4 354.4L568.8 351.9L567.8 350.7M567.8 350.7L566.1 349.6M566.1 349.6L559.5 349.3M566.1 349.6L565.7 348L562.7 347.2M567.8 350.7L569.9 350.7L572.5 349.7L571.9 348.1L573.8 347L573.7 345.9M573.7 345.9L570.1 344.3L563.8 344.1L561.9 344.9M573.7 345.9L576.7 344.7M576.7 344.7L575.3 341.7L574.5 341M574.5 341L571.6 340.2L570.1 339.8L568.1 340.1M574.5 341L574.5 339L574.1 337.7L575 336M576.7 344.7L582.7 346.2L583 348.1L587.5 352.2L584.6 353L586.1 355.7M586.1 355.7L583.9 357.9L580.8 357.7L576.4 356.8L571.6 356.3L568.8 357.4M586.1 355.7L590.3 355L594.4 358.8L595.1 360.4L600.5 361.8L605.2 362.6L605.2 367.1L602.3 369.6M576.3 366.4L578.9 366L582.1 367.4L584.4 371.6L580.8 374.3M568.3 367.1L572.8 367.9L576.3 366.4M580.8 374.3L584 375M576.3 366.4L578.6 368.8L580.2 371.6L580.8 374.3M566.5 366L568.3 367.1M568.3 367.1L565.9 369.9L564.5 371.9L562.9 372.3M562.9 372.3L560 373M560 373L556.9 372.9L554.6 371.3M554.6 371.3L553.6 370.3M554.6 371.3L552.7 372.1L552.1 374.1L550.5 373.7L548.3 374.3M560.4 376L555.9 375L553.2 375L553.2 376.1L554.3 377.8L557.7 381.2L559.7 382.6M560 373L560.4 376M560.4 376L561.5 377.8L561.8 379.5L561.2 379.8M561.2 379.8L560.1 380.6L559.7 382.6M561.2 379.8L563.8 381.6L563.4 382.5M563.4 382.5L561.9 384.3M563.4 382.5L564.7 384.3L564.6 386L565.2 387.2M565.2 387.2L565.2 388.9L563.8 390.6M565.2 387.2L567.6 387L570.1 385.9M564.7 384.3L566.6 383.3L568.5 383.2M563.8 381.6L564.8 380.6L566.3 382.1L566.6 383.3M568.5 383.2L570.1 385.9M568.5 383.2L568.6 381.5L569.8 380.6L568.2 378.4L568.7 377.8M568.7 377.8L567.4 376.9L565.8 376.1L565.9 375L562.9 372.3M568.7 377.8L569.4 378.9L575.3 379.4L579 378.1L582.1 379.1M570.1 385.9L573.6 385.5L575.5 386.2L577.4 385.9L577.7 384.9M577.7 384.9L579.6 383.8L581.4 384.1M577.7 384.9L578.4 386L577.3 387.6M540.9 337.2L542 336.1L542 334.8L543.3 334.3L542.8 331.9L543.7 330.9L542.2 330.1L542.2 326.8L541.5 326L543 324.2L545.3 324L546 321.2L546 318.9L547.6 317.9L549.3 315.5L552 314.2L552.2 313L555.8 313.3L556.2 311.7M556.2 311.7L559 312.8L562.8 314.2L562.7 315.7L564.1 317.2L564.7 319.7M556.2 311.7L558 311.1L560 312.3L565 312.8L566.6 310.1L570.2 309.3L572.9 310.6L572.5 311.7M572.5 311.7L575.6 310M572.5 311.7L571.9 313L575.1 315L573.6 317L576.3 319.9L575.9 322L577.8 323.7L577.1 325L580.5 327L577.2 330.6L574.2 333.1M502.8 347.7L501.3 348.9L500.8 349.3L502.6 350.1L504 350.4L504.8 350.3M612.3 385.5L616.8 386.6M616.8 386.6L617.8 389.5L620.4 390.6M620.5 390.8L618.9 391.5L620.2 394.6L619.9 395.8L621.5 397.9M621.5 397.9L615.9 398.1M615.9 398.1L612.1 398.1L607.9 399.2L604 399.4L603 400.5L602 401.7L601.4 401.4M608 380.1L612.6 380.6L616.9 382.3L620 382.1L623.1 384.3M616.8 386.6L620.3 386.2M620.3 386.2L623.7 386.6L623.1 384.3M620.3 386.2L622 388.6L624.5 391.2L624.8 392.9M623.1 384.3L626.6 386.3L628.1 384.5M620.5 390.8L624.8 392.9L627.8 390.6L628.7 391.6L630.5 394.2M615.9 398.1L613.6 400.1L614.1 402.4L613.8 405.9L609 408.9M609 408.9L604.6 411.9L602 410.6M601.9 405.1L603.1 405.6L603.6 406.4L602.2 408.7L601.6 409.2M600.4 409.6L601.6 409.2M601.6 409.2L602 410.6L601.6 411.6L601.9 414.2L601.7 415.7L601.1 419.8M598.9 414.9L600.9 420M609 408.9L610.3 412.3M610.3 412.3L605.3 414.2L608 417.1L606.9 418.5L603.7 420.9L601.2 420.4M610.3 412.3L613.2 412.9L617.5 415.4L624.2 420.9L628.3 421.1L628.7 421.1M628.7 421.1L630.5 418.5L631.7 418.5M628.7 421.1L631.6 422.7L633.3 422.7M621.5 397.9L623.5 401.2L625.2 402.1L624 405.6L625.6 408.5L626.3 409.9L629.5 411.6L630.8 413.4L630.8 415.7L631.7 417.2L633.1 418.7M640.2 433.7L641.2 434.1M642.3 435.3L643.6 438.7L651.2 439.6L651.4 439.6M651.4 439.6L652.4 435.3L652.8 433.3L653.5 433.1M652.4 429.9L653.1 431.2M651.4 439.6L652.7 441.6L651.7 447.4L644.6 450.3L647.8 457M644.6 450.3L637.7 451.4L635.6 452.7L631.3 455.3L628.9 455L625.5 454.9L624 454.4L623.4 457L622.7 457.8M642.5 397.4L644.6 397.1L647.5 395.2L649.9 394.9L652.8 396.5L654.9 396.9L658.2 399.4L659.7 399.4L660.3 402.3M660.3 402.3L660.4 405.3L659.6 407L660.8 408.5L660.2 409.9L661.6 414.2L663.8 414.5L664.2 416.1L662.4 419M662.4 419L664.9 422.3L667.7 423.6L668.1 426.5L669.3 426.6L669.3 428.4L666.2 429.4L666 432.4M662.4 419L666.5 420.3L670.3 420.4L675.3 418.8L675 415.8L678.1 414.5L681.3 413.1L680.7 409.9L682.9 408.9L681.5 406.9L684.1 405.9L684.8 403L684.1 401.2L688.1 398.7L690.5 398.2L691.1 397.7M660.3 402.3L662.9 403.3L664.9 401.7L667.6 400.4L667.8 398.1L669.6 397.5L671.7 397.4M671.7 397.4L674.8 397.9M674.8 397.9L677.2 397.4L678.4 396.6L680 396.8L680.4 395.2L682.3 394.8L683 395.8L683.3 398.2L684.4 399.2L686.1 398.2L687.3 397.1L688.8 397.2L691.1 397.7M671.7 397.4L671.4 395.5L668 394.4L665.4 392.9L660.6 389.8L658.7 386.6L654.5 385.8L653.7 383.5L650.2 381.8L648.8 383.6L646.9 384.5L647.6 386L645.1 386M645.1 386L644 386.2L641.9 383.9L640.3 383.2L637.8 383.8L637 384.6M645.1 386L643 375.5L648.1 373.8L654.6 377.2L657.4 379.8L663.9 379.2L667 381.2L667.6 384.1L669.6 386.3L672.7 386.9L674.4 387.8L677 386L678.5 383.3M674.8 397.9L675 395.5L675.5 394.9L673 390.9L675.1 391.1L675.6 389.5L679.2 389.2L678.7 388.3L678.8 387M678.5 383.3L679.1 383.5L677.3 385.5L681.3 386L684.3 387.3L681.9 389.2L678.8 387M678.5 383.3L684.1 382.8L683.9 380.9L685 380.4L688.6 381.6L696.5 381.6L699.4 383.1M699.4 383.1L696.2 385.2L692.8 386.9L691.4 388.6L688.7 388.8L686.7 390.1L686.7 391.3M686.7 391.3L682.6 391.8L679.5 390.9L677 391.1L676.9 389.5L679.5 389.9L681.9 389.2M686.7 391.3L688.1 394.1L690.2 394.4L691.1 397.7M699.4 383.1L698.8 381.5L700 380.6L697.7 376.5L696.6 375.4L701.6 374L701.4 369.1L706 369.9L706.7 368.6L705.8 365.8L707.5 365.6L708.5 363.7M708.5 363.7L706.6 362.1L703.9 362.4L702.6 361.2L699.2 359L697.9 358.6L695 359.3L691.4 357.7L690.9 359.2L683.3 352.2L680.2 349.2L679.7 350L675.9 351.8L674 351.9L673.5 350.4L670.5 349.5L668.6 350.1L666.8 347.4L662.8 346.7L661.3 348L656.4 348.9L655.7 349.6L648.1 350.5L647.3 351.5L649.5 353.4L647.7 354.1L648.8 356.4L650.5 359.3L647.5 359.2L647 360L643.8 358.6L640.5 358.6L638.5 359.9L635.6 358.6L630.5 356.8L627 356.8L623.3 359.9L623.6 361.9L620.9 360.3L619.9 363.3L620.6 363.9L619.8 366L622 367.9L623.6 367.8L625.8 371.2L626.8 371.6M708.5 363.7L709.2 363.5L711.4 363L714.9 360.4L717.3 359.3L721.7 360.1L723.8 361.5L725.9 361.5L729.4 362.2L730.7 360.4L729.1 358.8L729.9 355.9L732.8 357L737.8 358.1L739.3 360.1L742.9 361.2L747.3 360.4L749.6 360.7L752.4 362.1L754.5 363.5L756.4 363.5L759.4 363.9L763.7 362.8L765.8 360.8L767.3 361.1L771.4 361.8M709.2 363.5L710.6 365.4L713.5 367.1L716.6 367.9L718.9 370.2L719.4 373.6L720.7 374.5L726.7 375.7L731.5 377.7L733.5 380.4L735.4 381.9L737.9 381.9L742.8 382.6L748.1 382.6L752 384.3L756.1 385.2L758.2 383.6L761.4 382.6L764.8 382.6L767 381.6L768 380.1L769 379.1L768.3 378.2L767.9 375.5L771.4 376.1L772.9 374.5L775.7 373.4L776.5 371.6L777.7 370.9L780.8 370.5L782.8 370.7L781.8 369.2L777.1 367L776 367.9L772.5 367.8L771.4 366.7L771.5 363.9L771.4 361.8M771.4 361.8L774.6 362.9L776.7 361.1L776 359.9L776.9 356L774.2 353.9L775 352.4L780.5 352L784.2 352.9L786.7 353.8L793.1 359.4L795.5 362.2L799.8 363L803.5 365L805.8 367.7L809.2 367.7L810.5 366.5L813.8 365.8L814 368.2L813.7 369.3L814.7 372.4L814.8 375.1L811.9 374.7L810.4 375.7L812.3 378.1L813.6 381.3L812.6 381.5L813.3 382.9M813.3 382.9L810.9 381.2L811 382.8L808 384.1L809 385.6L805.6 384.6L805 386.6L803 388.2L802 389.9M808.9 396.2L810.2 396.1L810.5 394.8L813 394.5L813 393.8M779.8 442.9L776.3 441.6L775.7 440.3L772.3 437.7L770.5 439.3L768.2 439.6L766.2 439.6L765 440.3M765 440.3L763.9 440.8L764.9 444.1L763.5 443.9L763.1 442.9M763.1 442.9L761.2 442.9L759.9 441.5L758.2 441.3L758.4 438.9L756.8 438.3L755.7 435.7L753.3 436.2L752.8 432.7L754.8 430.4L753.7 425.8L752.5 425L751.3 423.3L750 423.6M750 423.6L746.6 420.1L744.9 421.3L742.7 420.6L740.4 422.4L738.7 424.6L736.9 425M736.9 425L734.4 424.2L731.9 423.6L730.5 426.3M730.5 426.3L729.7 424.2L728.2 424.8M728.2 424.8L723.2 424.6L722.5 423.7L718.3 421.9L715.2 420.6L713.1 418.3L710.2 418M710.2 418L706.4 415.8L703.8 414.2L703.7 411.8M699.2 402.7L695.1 401.5L693.9 399.4L691.1 397.7M682.5 436.7L683.8 434.9L689.1 434.9L688.2 432.4L686.7 431L686 428.7L684.2 427.4L686.4 424.5L689.3 424.6L691.2 421.6L692.2 418.7L693.9 415.8L693.5 413.6L695.2 412.1M710.2 418L708.6 422L711.1 423.2L713.6 424.6L717 426.2L720.3 426.5L722 427.9L724 428.2L727 428.9L728.9 428.9L729.1 427.8L728.2 424.8M730.5 426.3L730.5 427.4L732.8 428.1L734.2 427.6L736.2 427.8L738.2 427.6L738 425.9L736.9 425M733.6 441.9L732.8 439L731.6 436.9L730.1 434.4L730.4 433.4L731.7 432.3L729.6 430.8L730.1 428.8L732.3 430.1L733.5 430.2L734 432.3L736.3 432.5L739.2 432.5L740.2 433.1L739.2 435.4L738.3 435.6L737.9 437.3L739.5 438.7L739.6 437L740.3 436.9L742.6 443.6L742.2 445.4M742.6 443.6L742.9 439.6L742.8 435.6L744.9 436.3L745.5 433.8L745.3 432.5L746.2 430.1L748.4 426.5L750.3 426.9L749.7 425.2L750 423.6M763.1 442.9L761.1 446.2M761.1 446.2L759.9 446.8L758.6 448.1L757 448.3L756.3 451.3L755.4 451.9L756.9 454.4L760 458.3L759.5 460.9L758.7 461.5L759.4 462.9L761.3 465.1L763.1 470.7L762 473.4L761 476.3M761.1 446.2L762.4 447.1L762.8 448.8L764.5 449L764.4 452L764.7 454.6L767 452.9L767.8 453.3L769.3 453.1L771.5 452.4L773.7 454.7L774.3 457.6L776.6 460.2L776.8 462.6L776.1 463.8M776.1 463.8L770.9 463.9L769.4 466.4L770.4 469.8L771.3 471.4M776.1 463.8L778.3 464.9L779.2 463.1L781.5 464.1L781.7 462.6M765 440.3L766.9 442.6L768.5 445.2L771.5 445.2L772.8 447.7L771.5 448.5L770.9 449.6L774.1 451.3L776.7 454.6L778.5 457.2L780.7 459.2L781.5 461.2L781.7 462.6M781.7 462.6L782.3 465.9L782.4 469.4L778.5 471.7L779.7 473.4L777.1 473.5L775.2 474.7M765.5 486.3L765.8 485.7L768 487L768.2 488.5L769.8 488.2L770.6 487M789.6 499.1L790.1 500.9L791.7 502.7L793.3 502.1L794.9 502.2L796.4 500.8L799.9 501.4L801.8 500.6L803.1 496.8L804 495.8L804.7 492.5L807.6 492.5L809.8 492.9M800.4 491.8L801.7 493.3L803.4 492.5L803.5 490.6M867.2 512.3L865.9 530.9M826.4 530.3L826.6 531.7M513 403.8L513.8 405.6L514 407.9L514.7 410.3L515.4 410.9L514.9 412.1L511.9 412.5L510.8 413.6L509.4 413.8L509.3 416L506.5 417.1L505.6 418.5L503.6 419.3L501.3 419.7L497.4 421.9L497.3 425.3M497.3 425.3L486.6 425.3M497.3 425.3L497.3 426.3M497.3 426.3L497.3 430.2L489.2 430.2L489 437.4L486.6 438.7L486.3 439.5L486.5 443.5L476.9 443.5L476.6 445.1M497.3 426.3L506.3 433M506.3 433L502.4 433L503.4 445.4L504.5 457.9L505 458.3L504.4 460.3L494.6 460.3L493.3 460.8L491.4 461.3L489.1 462.3L488.2 462.8M488.2 462.8L486.5 460.9L485.1 458.8L483.5 458L482.4 457.2L481 457.2L478.5 457.6L477.7 458.5M488.2 462.8L488.3 464.8L489.9 467.7L490 469.2M490 469.2L487.3 469.4L484.3 468.7M484.3 468.7L479.8 468.5L476.9 469.2M477 465.8L480.9 465.1L484 466.1L480.9 466.7L476.7 467.1M484.3 468.7L484.3 471L482.1 471.8L480.9 473.4M490 469.2L491.3 469.8L493.6 470.2L495.5 469.4L497.3 472.1L496.8 473.8L497.7 475.7M485.3 479.3L487.3 476.6L490.6 476.1L491.6 478.4L492.7 480.7M492.7 480.7L493.9 480.4L494.9 482L495.3 483.9L497.1 482.7M497.1 482.7L498.6 480.1L497.5 476.7L497.7 475.7M492.7 480.7L489.6 485.2M497.1 482.7L497.5 487L499.3 488.5L499.3 492.3M497.7 475.7L501.1 475.7L502.7 474.7L504.7 475M504.7 475L505.2 471.3L507.2 468.8L508.2 466.2L510.4 465.9L510.8 464.2L513.1 463.1L516.8 461.5L518.9 461.9M518.9 461.9L521.4 460.9L526.9 460.2L528.4 456.5L528.3 449.8M528.3 449.8L525.7 450.1L525.7 448.3L522.4 445.7L506.3 433M528.3 449.8L531.9 448.5L538.7 442.9L546.8 437.3M546.8 437.3L545.8 435.6L542.8 434.7L541.9 433.1L541.8 432L540.3 429.8L541.2 428.7L541.1 426.8L541.7 424.6L540.5 417.7M540.5 417.7L539.3 412.5L537.9 411.3L537.9 410.6L535.8 408.9L535.5 406.7L537 405.1L537.5 402.7L537 400L537.4 398.5M540.5 417.7L541.6 417L541.8 415.8L543.1 413.5L543.8 412.5L544.9 411.8L545 409.5M546.8 437.3L550.8 438.6L552.2 440.2L553.9 439.2L556.4 437.6M556.4 437.6L566.1 443.1L576 448.5L576.4 448.8M576.4 448.8L576.3 447.4L578.8 447.4L578.5 441.6M578.5 441.6L577.4 420.7L576.6 418.4L577 416.7L576.6 415.4L577.3 414.1M578.5 441.6L592.9 441.6L607.2 441.6M556.4 437.6L554.6 443.6L555.5 445.2L556.6 446.2L556.2 447.5L555.3 453.3L555.3 457L552.2 459.8L551.2 463.6L552.2 464.6L552.3 466.5L551.4 465.5M551.4 465.5L550.2 465.9L548.2 467.4L546.3 466.5L544.3 466.8L542.8 466.7L541.4 468L540.1 468L537.2 466.5L536.1 467.2L534.7 467.2L533.8 466.1L531.4 465.1L528.7 465.4L528.1 465.9L527.7 467.7L527.1 468.8L526.9 471.4M526.9 471.4L525 469.7L524.1 469.7L523.3 470.5M523.3 470.5L523.4 468.5L520.5 468L520.3 466.5L519.1 464.6L518.7 463.4L518.9 461.9M523.3 470.5L521.6 471.7L520.2 473.3M520.2 473.3L518 473.1M518 473.1L516.9 473L515 473.3L510.7 473.4L511.2 475L511.1 477.1M511.1 477.1L508.3 476.6L507.3 477.3L506.2 476.7L504.7 475M511.1 477.1L511.7 481.3L510 486.9L510.9 490.5L510.3 490.2M518 473.1L518.9 475.6L518.9 477.7L519.1 479.9L519.7 481L519.2 483.6L519.4 485L520.6 487.7L521 487.3M520.2 473.3L519.8 474.8L521.5 476.6L522.1 478.6L522.1 485.2L522.6 487.2M526.9 471.4L527.4 474L526.9 475.1L524.7 480.4L524.8 482.3L524.7 486.7M551.4 465.5L552.7 467.4L552.9 469L554.1 470.7L551.4 473.8L549.5 479.9L548.1 481L547 484.9L545.3 485.7L543.9 484.6L543 484.6L541.5 486.3L540.9 486.3L539.6 489L539 491.2M552.7 467.4L553.6 468L554.7 469.8L555.7 474.1L555.7 476.3L554.7 476.3L553 476.1L552.4 477.4L553.9 479.1L555 479.6L556.2 482.7L555.8 483.6M555.8 483.6L554.6 486.5L553.7 486.5L554 490.5L555.3 493.3L557.2 496.1L558.1 498.5M558.1 498.5L557.5 499.9L553.5 498.4L550.9 498.5M550.9 498.5L546 498.4M546 498.4L542.3 498.2M546 498.4L546 501.8L542.3 501.8L541.5 501.9M550.9 498.5L550.8 501.2L552.8 500.8L553.9 502.2L552.3 504.7L553.4 506.4L553.8 508.7L553.4 510.5L550.4 511.8L549.2 510.4L549 511.7L547.2 512L546.5 512.7L547.3 514.7L545.5 516.1M555.8 483.6L557.8 483.3L559.3 483.3L562.3 482.2L564.7 480L565.1 478.9L567.5 479L569.8 477.6L571.5 474.6L572.8 473.4L574.3 472.8M574.3 472.8L573.4 471.3L573.3 469.7L572.8 468.5L572 468.7L572.2 467.5L572.5 465.2L573.3 464.4L572.7 463.8L573.3 461.9L574.3 459.8L576.5 460.1L576.4 448.8M574.3 472.8L576.1 475.8L575.9 479.1L577 480.1M577 480.1L578.6 479.3L579.7 475.4L581.6 475L583.4 477.4L586.7 477.3L589.4 477.9L590.7 476.7L591 475.8L594.1 477L595.3 476.7L597.8 473L597.5 471.3L596.9 470.4L598.6 469.7L599.7 469.8L599.5 472L599.8 474.1L601.1 475.1L601.5 477.6L602.2 480.3M577 480.1L579.3 482.2L580 483.3L582.8 486L583.4 487.7L585.3 488.9L585.8 489.9M585.8 489.9L580.6 490L578.4 490.2L575.7 491.6L574.2 491.5L573.4 493.2L571.6 492.6L569.8 492.5L566.1 490.3L564.9 491.3L563.9 492.8L564 494.8M564 494.8L562.1 494.6L560.5 494.2L559 495.6L558.1 498.5M564 494.8L562.8 498.1L562.3 499.8L562 502.4L562.1 503.9L561.7 504.9L561.3 506.9L558.6 509.8L557.6 515L557 515.8L555.5 517.3L554.1 519L553.1 518.6L553 517.7L551.7 517.7L550.8 518.8L550.2 518.6L549.2 517.6L548.4 518L547.7 519.3M550.2 518.6L548.4 521.4L548.2 521.4M548.4 522.3L549.5 521.9L551.1 521.6L558.4 521.6L559.6 525.4L561.1 527.9L562.8 527.6L564.9 527.6L565.9 525.3L567.5 525.1L567.7 524.7L568.9 524.7L568.7 525.7L571.7 525.7L571.7 527.4L572.2 528.6L571.8 530.3L572 532L572.7 533.2L572.6 536.6L573.2 536.3L574.3 536.5L575.8 535.9L577.1 536.1M577.1 536.1L577 542.1L572.1 542.1L571.8 551.3L574.9 555.2M546.8 554.3L551 553.6L552.7 554.7L562.9 554.7L564.1 555.9L570.2 556.3L574.9 555.2M574.9 555.2L578.2 555L579.6 555.9M579.6 555.9L577 556.5L574.8 556.7L569.2 557.3L568.8 568L566.4 568L566.1 575.9M566.1 575.9L565.6 586.4L563.8 587.9L560.8 587.7L559.4 587.3L558.7 585.4L557.2 587M566.1 575.9L567.9 579.8L567.4 582L569.8 582L572.2 579.8L573.4 577.5L577.4 578.9L579.4 578.6L580.2 575.9L582.7 574.5L583.4 572.6L586.5 569.6L589 568.5M589 568.5L585.8 566.7L585.3 563.6L581.6 560.9L579.6 555.9M579.6 555.9L583.1 556.6L583.9 556.3L588.7 550.8L592.4 549.7M589 568.5L593.7 569.1M593.7 569.1L596.7 566L596.9 563.9L598.4 561.6L597.8 559.3L598.6 555L598.3 552.7L595.9 551.7L592.4 549.7M593.7 569.1L594.9 574.7L594.6 579.4M594.6 579.4L593.2 578.8L591.8 580.7L592 582.4L594.4 583.3L594.8 582L594.6 579.4M594.8 582L596.7 582M586.1 587L587.9 589L587 590.9L585.1 592.5L582.9 591.9L582.1 590L584 587.9L586.1 587M592.4 549.7L592 547.7L599.5 545M599.5 545L598.9 543.7L599.1 540.9L600 540.5L600 538.1L600 535.8L599.3 531.7M599.5 545L602.3 546.1L602.6 548.7L602.2 551.3L604.2 553.9L605.6 550.7L605.9 547.5L604.5 544.7L603 543.8L603.1 537.9L604 537.9M599.3 531.7L601.6 532.6L603.1 537.9M604 537.9L606.1 537.5L610.3 538.3L612.8 537.2L617.7 534.9M599.3 531.7L595 529.5L593.9 528.3M577.1 536.1L578.3 537.5L580.4 536.9L582 538.9L585 538.1L586 540.1L588 540.6L589.2 543.2L591.2 543.4L591.3 539.6L589.4 540.4L587.8 538.8L588.6 535.5L588.7 532.3L588.1 531.3L589.3 529.2L593.9 528.3M593.9 528.3L591.2 522.9L590.8 517.6M590.8 517.6L589.9 512.3M589.9 512.3L591.3 508.8M591.3 508.8L591.3 506.5L592.2 503.1L595.5 498.6L594.4 498.1L594.1 496.1L594.4 494.8M594.4 494.8L592.1 492.9L590.1 492.2L588.4 492.5L585.8 489.9M594.4 494.8L597 494.6L598.9 493.9L600.7 493.9L602.1 492.6M602.1 492.6L603.6 490.9L605.3 489L606.6 489.5L606.6 491L607 492.2M605.3 489L603.8 485.9L602.7 485.2L600.9 482.7L599.5 482.2L600.2 480.9L601.6 480.7L602.2 480.3M602.2 480.3L602.4 474.3L603.9 473.8L604.7 470.1L607 465.9L607.4 463.5M607.4 463.5L607.3 461.8L608.3 458L608.7 455.3L611.7 453.1M607.4 463.5L610.3 464.1L610.9 461.9L613.9 462.5L616.2 463.2L618.4 464.4L619 465.4L622.1 468.8M622.1 468.8L624 468.4M622.1 468.8L620.5 471.4L620.8 473.1L623.4 473.4M623.4 473.4L624.2 472M623.4 473.4L622.9 474.6L624.8 477.4L626.6 479L634 481.9L636.1 481.9L629.2 490.5L626 490.6L622.3 492.6L621.6 493.5M621.6 493.5L619.7 493.6L618.9 492.6L616.6 493.8L615.9 495.1L614.3 494.8L612.3 494.5L609.2 492L607 492.2M621.6 493.5L619.4 496.8L619.6 507.2L620.9 509.5M602.1 492.6L603.4 494.6L603.7 496.1L604.8 499.4L603.8 501.4L602.7 503.2L602 504.5L602 507.7M602 507.7L611.3 513.7L611.4 515.4L615 518.3M602 507.7L593.5 507.8M593.5 507.8L591.3 508.8M593.5 507.8L594.2 511.4L593.7 511.7M593.7 511.7L592 511.5L589.9 512.3M593.7 511.7L593.5 515L591.6 517.6L590.8 517.6" fill="none" stroke="#6c6c6c" stroke-width="0.58" stroke-linejoin="round"/>
<path id="disputed" d="M695.2 412.1L693 410.6L691.7 408.6L690.4 406.1L691.3 404.8L694.9 405.6L697.4 405.1L699.2 402.7M703.7 411.8L704.3 411.3L702.5 411L704.7 409.9L702.7 408.5L702.4 406.1L700.8 405L699.2 402.7M702.4 406.1L704.6 405.6L704.9 403L702.7 401.5L700.2 402.4L699.2 402.7" fill="none" stroke="#2a2a2a" stroke-width="0.75" stroke-dasharray="1.7 1.2"/>
<rect x="130" y="270" width="870" height="27" fill="url(#fT)"/><rect x="130" y="635" width="870" height="50" fill="url(#fB)"/><rect x="130" y="270" width="75" height="415" fill="url(#fL)"/><rect x="885" y="270" width="115" height="415" fill="url(#fR)"/>
</g>
<g id="bubbles" fill="rgb(33,173,173)"><circle cx="276.5" cy="352" r="3.4"/><circle cx="249.1" cy="363.7" r="2.9"/><circle cx="306.6" cy="362" r="3.7"/><circle cx="361" cy="353.7" r="3.9"/><circle cx="256.3" cy="380.2" r="12.5"/><circle cx="235" cy="396.7" r="9.7"/><circle cx="296.2" cy="398.2" r="11.6"/><circle cx="290.1" cy="411.3" r="14.6"/><circle cx="289" cy="411.3" r="9.6"/><circle cx="320.3" cy="408.2" r="16.2"/><circle cx="319" cy="384.3" r="12"/><circle cx="320.3" cy="395.1" r="10"/><circle cx="344.2" cy="389.7" r="13.6"/><circle cx="344.5" cy="388.2" r="10.8"/><circle cx="354.2" cy="374.3" r="6.9"/><circle cx="349.4" cy="374.8" r="2.6"/><circle cx="339.1" cy="379.7" r="5.1"/><circle cx="338.6" cy="379.7" r="3.8"/><circle cx="560.5" cy="368.9" r="25.8"/><circle cx="527.3" cy="360.4" r="13.5"/><circle cx="513.1" cy="352.5" r="6.1"/><circle cx="515.5" cy="354.2" r="4.1"/><circle cx="515.5" cy="354.2" r="4"/><circle cx="515.4" cy="354.1" r="3.7"/><circle cx="515.3" cy="354" r="3.2"/><circle cx="515.3" cy="354" r="2.6"/><circle cx="517.5" cy="356.9" r="4.2"/><circle cx="517.2" cy="356.5" r="3.8"/><circle cx="517" cy="356.2" r="3.2"/><circle cx="524.6" cy="357.9" r="3.4"/><circle cx="527.3" cy="358.9" r="2.7"/><circle cx="527.3" cy="358.9" r="1.8"/><circle cx="537.4" cy="360.9" r="3.5"/><circle cx="537.3" cy="360.7" r="2.8"/><circle cx="537.3" cy="360.5" r="2"/><circle cx="536.7" cy="364.9" r="3"/><circle cx="538.7" cy="351.1" r="3.7"/><circle cx="540.1" cy="354.5" r="3"/><circle cx="546.1" cy="352.8" r="5.1"/><circle cx="546.5" cy="353.5" r="3.6"/><circle cx="548.2" cy="356.5" r="3.2"/><circle cx="551.5" cy="357.5" r="3"/><circle cx="542.5" cy="356" r="2.8"/><circle cx="543.4" cy="366.6" r="2.6"/><circle cx="561" cy="359.6" r="9.4"/><circle cx="563" cy="355.5" r="5.7"/><circle cx="560.8" cy="360" r="4.1"/><circle cx="560.8" cy="359.6" r="2.6"/><circle cx="555.2" cy="358.2" r="3.4"/><circle cx="554.9" cy="363.3" r="3.7"/><circle cx="509.5" cy="388.9" r="11.1"/><circle cx="509.5" cy="388.5" r="4.3"/><circle cx="509.5" cy="388.5" r="2.7"/><circle cx="522.9" cy="386.1" r="6.1"/><circle cx="709.1" cy="467.9" r="19.7"/><circle cx="709.9" cy="455.1" r="5"/><circle cx="695.7" cy="450.5" r="5.3"/><circle cx="695.5" cy="441.2" r="4"/><circle cx="701.5" cy="423.3" r="3.5"/><circle cx="704.7" cy="427.1" r="3.2"/><circle cx="775.1" cy="444.9" r="2.5"/><circle cx="781.1" cy="474.2" r="2.5"/></g>
</svg>
</body></html>
